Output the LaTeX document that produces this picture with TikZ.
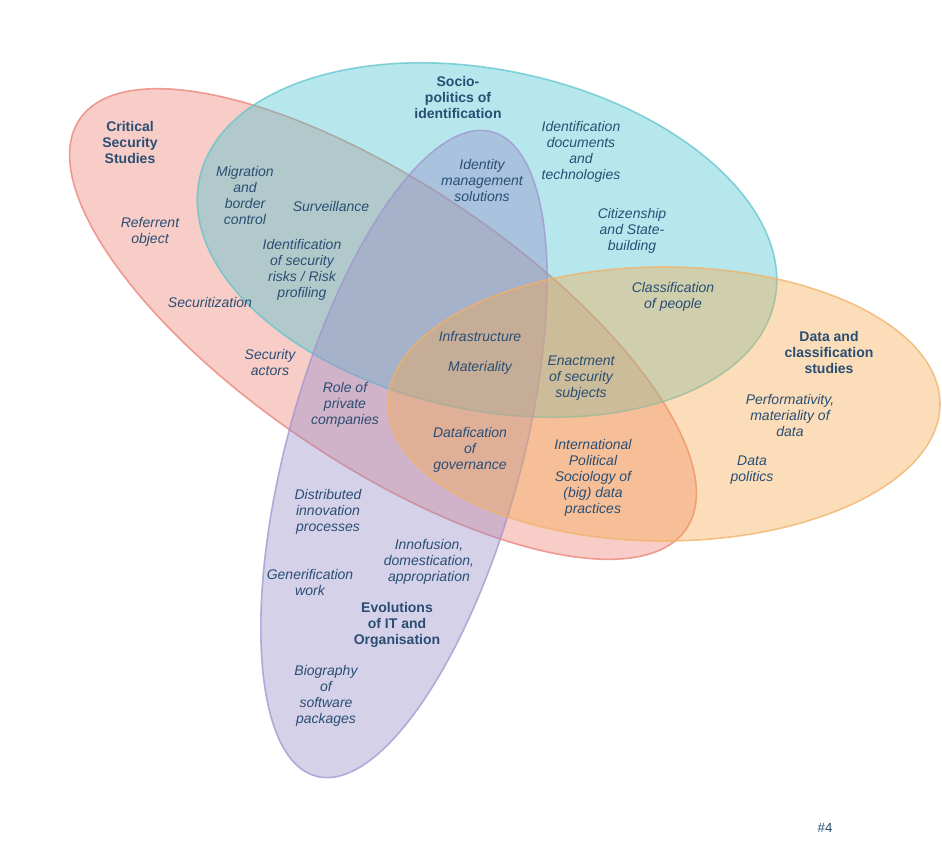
\documentclass[tikz,border=0pt]{standalone}
\usepackage{fontspec}
\setmainfont{Liberation Sans}
\usetikzlibrary{positioning}

\definecolor{txtblue}{RGB}{42,78,115}
\definecolor{cssfill}{RGB}{238,130,118}
\definecolor{cssline}{RGB}{236,128,116}
\definecolor{idfill}{RGB}{72,196,208}
\definecolor{idline}{RGB}{96,196,206}
\definecolor{datafill}{RGB}{245,170,80}
\definecolor{dataline}{RGB}{242,178,104}
\definecolor{itfill}{RGB}{150,140,200}
\definecolor{itline}{RGB}{160,150,205}

\tikzset{
  topic/.style={align=center, text=txtblue, inner sep=0pt,
    font=\itshape\fontsize{10.5}{12}\selectfont},
  field/.style={align=center, text=txtblue, inner sep=0pt,
    font=\bfseries\fontsize{10.5}{12}\selectfont},
  blob/.style={line width=1.2pt, fill opacity=0.4, draw opacity=0.75}
}

\begin{document}
\begin{tikzpicture}[x=0.75pt, y=-0.75pt]
\useasboundingbox (0,0) rectangle (942,840);

\coordinate (Ccss) at (383,324);
\coordinate (Cid) at (487,240);
\coordinate (Cit) at (404,454);
\coordinate (Cdata) at (664,404);

% the four fields
\draw[blob, draw=cssline, fill=cssfill, rotate around={-34:(Ccss)}]
  (Ccss) ellipse [x radius=366, y radius=140];
\draw[blob, draw=idline, fill=idfill, rotate around={-12:(Cid)}]
  (Cid) ellipse [x radius=294, y radius=170];
\draw[blob, draw=itline, fill=itfill, rotate around={-15.3:(Cit)}]
  (Cit) ellipse [x radius=117, y radius=334];
\draw[blob, draw=dataline, fill=datafill]
  (Cdata) ellipse [x radius=276, y radius=137];

% field titles
\node[field] (css) at (130,142) {Critical\\Security\\Studies};
\node[field] (idn) at (458,97) {Socio-\\politics of\\identification};
\node[field] (dcs) at (829,352) {Data and\\classification\\studies};
\node[field] (ito) at (397,625) {Evolutions\\of IT and\\Organisation};

% topics
\node[topic] (referrent) at (150,232) {Referrent\\object};
\node[topic] (securitization) at (210,302) {Securitization};
\node[topic] (actors) at (270,362) {Security\\actors};
\node[topic] (migration) at (245,195) {Migration\\and\\border\\control};
\node[topic] (surveillance) at (331,206) {Surveillance};
\node[topic] (risks) at (302,270) {Identification\\of security\\risks / Risk\\profiling};
\node[topic] (idmgmt) at (482,180) {Identity\\management\\solutions};
\node[topic] (iddocs) at (581,152) {Identification\\documents\\and\\technologies};
\node[topic] (citizen) at (632,231) {Citizenship\\and State-\\building};
\node[topic] (classif) at (673,297) {Classification\\of people};
\node[topic] (infra) at (480,336) {Infrastructure};
\node[topic] (material) at (480,368) {Materiality};
\node[topic] (enact) at (581,378) {Enactment\\of security\\subjects};
\node[topic] (perform) at (790,415) {Performativity,\\materiality of\\data};
\node[topic] (datapol) at (752,470) {Data\\politics};
\node[topic] (private) at (345,405) {Role of\\private\\companies};
\node[topic] (datagov) at (470,450) {Datafication\\of\\governance};
\node[topic] (ips) at (593,478) {International\\Political\\Sociology of\\(big) data\\practices};
\node[topic] (distrib) at (328,512) {Distributed\\innovation\\processes};
\node[topic] (innofus) at (429,562) {Innofusion,\\domestication,\\appropriation};
\node[topic] (generif) at (310,582) {Generification\\work};
\node[topic] (biog) at (326,696) {Biography\\of\\software\\packages};

\node[text=txtblue, font=\fontsize{10}{12}\selectfont, inner sep=0pt] (pageno) at (825,828) {\#4};

\end{tikzpicture}
\end{document}
